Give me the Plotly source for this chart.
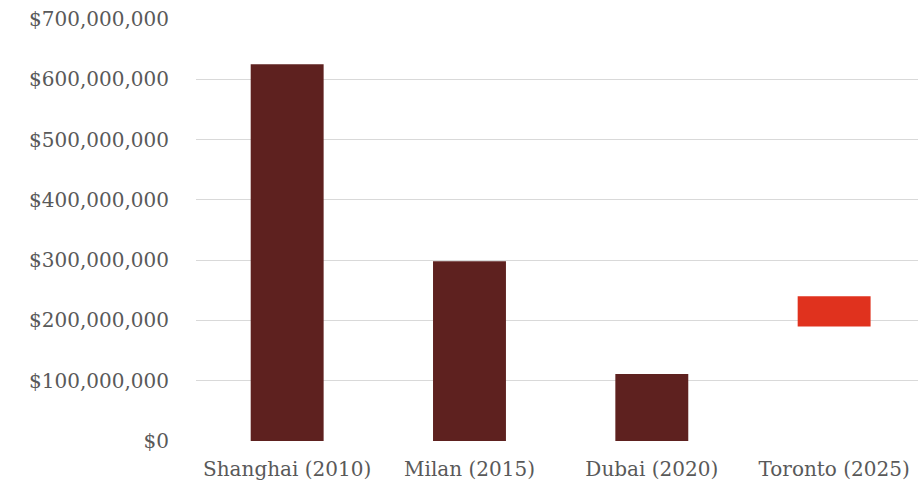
import plotly.graph_objects as go

# World Expo spending by host city
cities = ["Shanghai (2010)", "Milan (2015)", "Dubai (2020)", "Toronto (2025)"]
low_values = [0, 0, 0, 190_000_000]
high_values = [625_000_000, 298_000_000, 111_000_000, 240_000_000]
bar_colors = ["#5E211F", "#5E211F", "#5E211F", "#E0321E"]
y_ticks = [0, 100_000_000, 200_000_000, 300_000_000, 400_000_000,
           500_000_000, 600_000_000, 700_000_000]

spans = [hi - lo for lo, hi in zip(low_values, high_values)]

fig = go.Figure(
    go.Bar(
        x=cities,
        y=spans,
        base=low_values,
        marker=dict(color=bar_colors, line=dict(width=0)),
        width=0.4,
        hoverinfo="skip",
    )
)

label_font = dict(family="DejaVu Serif", size=20, color="#595959")

fig.update_layout(
    width=918,
    height=486,
    margin=dict(l=196, r=0, t=19, b=45),
    paper_bgcolor="white",
    plot_bgcolor="white",
    showlegend=False,
    xaxis=dict(
        range=[-0.5, 3.46],
        showgrid=False,
        showline=False,
        zeroline=False,
        ticks="outside",
        ticklen=10,
        tickcolor="rgba(0,0,0,0)",
        tickfont=label_font,
    ),
    yaxis=dict(
        range=[0, 700_000_000],
        tickvals=y_ticks,
        tickformat="$,.0f",
        showgrid=True,
        gridcolor="#D9D9D9",
        gridwidth=1,
        zeroline=False,
        showline=False,
        ticks="",
        ticklabelstandoff=26,
        tickfont=label_font,
    ),
)

fig.write_html("out.html")
